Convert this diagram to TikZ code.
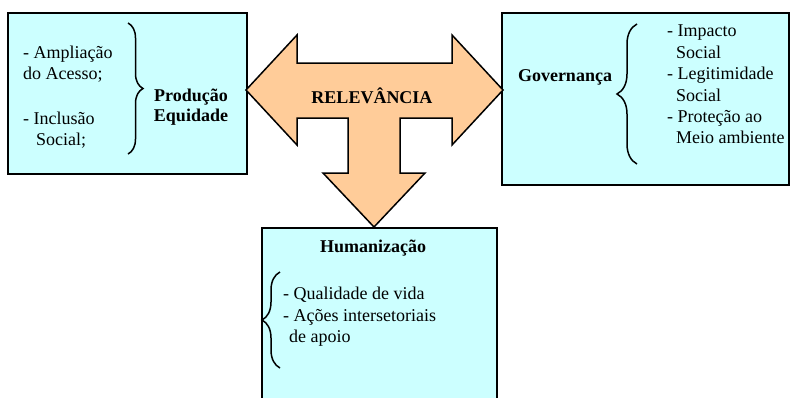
\documentclass[tikz,border=0pt]{standalone}
\usepackage{fontspec}
\setmainfont{Liberation Serif}
\usetikzlibrary{decorations.pathreplacing}
\definecolor{caixa}{HTML}{CCFFFF}
\definecolor{seta}{HTML}{FFCC99}

\begin{document}
\begin{tikzpicture}[x=1pt,y=-1pt,
	bloco/.style={draw,line width=1.5pt,fill=caixa,inner sep=0pt},
	lista/.style={align=left,inner sep=0pt,font=\fontsize{18}{20.5}\selectfont},
	titulo/.style={align=center,inner sep=0pt,font=\fontsize{18}{20}\selectfont\bfseries},
	chave/.style={decorate,decoration={brace,amplitude=#1},line width=1.5pt}]
	\useasboundingbox (0,0) rectangle (793,397);
	\clip (0,0) rectangle (793,397);
	% caixas
	\node[bloco,minimum width=239pt,minimum height=161pt] (prod) at (127.5,93.5) {};
	\node[bloco,minimum width=287pt,minimum height=172pt] (gov) at (645.5,99) {};
	\node[bloco,minimum width=235pt,minimum height=200pt] (hum) at (379.5,328) {};
	% seta central
	\draw[line width=1.5pt,fill=seta] (246,90) -- (297,35) -- (297,63) -- (452,63) -- (452,35)
		-- (503,90) -- (452,145) -- (452,118) -- (400,118) -- (400,173) -- (425,173)
		-- (374,227) -- (323,173) -- (348,173) -- (348,118) -- (297,118) -- (297,145) -- cycle;
	\node[titulo] (rel) at (372,96) {RELEVÂNCIA};
	% producao
	\node[lista,anchor=north west] (prodlista) at (23,46)
		{- Ampliação\\do Acesso;\\[25pt]- Inclusão\\\hspace*{13pt}Social;};
	\draw[chave=15pt] (128,23) -- (128,154);
	\node[titulo] (prodtit) at (191,107) {Produção\\Equidade};
	% governanca
	\node[titulo] (govtit) at (565,77) {Governança};
	\draw[chave=20pt] (637,164) -- (637,24);
	\node[lista,anchor=north west,font=\fontsize{18}{21.4}\selectfont] (govlista) at (667,25)
		{- Impacto\\\hspace*{9pt}Social\\- Legitimidade\\\hspace*{9pt}Social\\- Proteção ao\\\hspace*{9pt}Meio ambiente};
	% humanizacao
	\node[titulo] (humtit) at (373,248) {Humanização};
	\draw[chave=18pt] (280,368) -- (280,272);
	\node[lista,anchor=north west,font=\fontsize{18}{21.5}\selectfont] (humlista) at (283,287)
		{- Qualidade de vida\\- Ações intersetoriais\\\hspace*{6pt}de apoio};
\end{tikzpicture}
\end{document}
